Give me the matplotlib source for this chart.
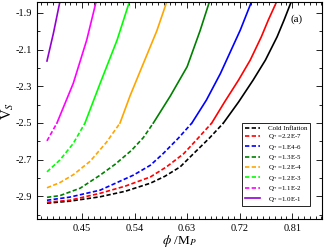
import numpy as np
import matplotlib
matplotlib.use('Agg')
import matplotlib.pyplot as plt
from matplotlib.ticker import MultipleLocator
from matplotlib.lines import Line2D

plt.rcParams['font.family'] = ['Liberation Serif', 'DejaVu Serif']
plt.rcParams['mathtext.fontset'] = 'stix'

# curves: phi/M_P and V_S
labels = ['Cold Inflation', 'Q$_*$=2.2E-7', 'Q$_*$=1.E4-6', 'Q$_*$=1.3E-5',
          'Q$_*$=1.2E-4', 'Q$_*$=1.2E-3', 'Q$_*$=1.1E-2', 'Q$_*$=1.0E-1']
colors = ['black', 'red', 'blue', '#008000', 'orange', '#00ff00', 'magenta', '#9400d3']

phi_cold = [0.390, 0.429, 0.481, 0.524, 0.567, 0.592, 0.618, 0.644, 0.668, 0.692,
            0.718, 0.743, 0.764, 0.784, 0.796, 0.808]
vs_cold = [-2.938, -2.927, -2.903, -2.873, -2.829, -2.791, -2.740, -2.658, -2.583, -2.501,
           -2.386, -2.266, -2.157, -2.030, -1.938, -1.840]

phi_q1 = [0.390, 0.429, 0.481, 0.524, 0.567, 0.595, 0.624, 0.647, 0.672,
          0.694, 0.718, 0.738, 0.757, 0.769, 0.783]
vs_q1 = [-2.933, -2.922, -2.884, -2.845, -2.795, -2.739, -2.668, -2.589, -2.501,
         -2.386, -2.266, -2.157, -2.030, -1.938, -1.840]

phi_q2 = [0.390, 0.429, 0.481, 0.538, 0.567, 0.589, 0.615, 0.638, 0.663, 0.687, 0.721, 0.740]
vs_q2 = [-2.922, -2.905, -2.867, -2.785, -2.731, -2.667, -2.583, -2.501, -2.375, -2.230, -1.993, -1.840]

phi_q3 = [0.390, 0.412, 0.447, 0.481, 0.507, 0.535, 0.555, 0.572, 0.601, 0.630, 0.652, 0.668]
vs_q3 = [-2.906, -2.897, -2.856, -2.785, -2.725, -2.649, -2.580, -2.501, -2.354, -2.193, -1.998, -1.840]

phi_q4 = [0.390, 0.412, 0.435, 0.464, 0.492, 0.515, 0.532, 0.549, 0.578, 0.595]
vs_q4 = [-2.854, -2.826, -2.783, -2.709, -2.605, -2.501, -2.354, -2.222, -1.998, -1.840]

phi_q5 = [0.390, 0.412, 0.435, 0.455, 0.481, 0.510, 0.531]
vs_q5 = [-2.767, -2.703, -2.612, -2.501, -2.284, -2.048, -1.840]

phi_q6 = [0.390, 0.407, 0.435, 0.458, 0.474]
vs_q6 = [-2.598, -2.501, -2.284, -2.048, -1.840]

phi_q7 = [0.390, 0.401, 0.412]
vs_q7 = [-2.162, -2.011, -1.840]

phis = [phi_cold, phi_q1, phi_q2, phi_q3, phi_q4, phi_q5, phi_q6, phi_q7]
vss = [vs_cold, vs_q1, vs_q2, vs_q3, vs_q4, vs_q5, vs_q6, vs_q7]
v_switch = -2.5  # dashed below, solid above

fig = plt.figure(figsize=(3.25, 2.49), dpi=100)
ax = fig.add_axes([0.114, 0.12, 0.877, 0.872])

dash = (2.6, 1.4)
for phi, vs, c in zip(phis, vss, colors):
    phi = np.array(phi)
    vs = np.array(vs)
    low = vs <= v_switch + 0.002
    high = vs >= v_switch - 0.002
    if low.sum() > 1:
        ax.plot(phi[low], vs[low], color=c, lw=1.2, dashes=dash)
    ax.plot(phi[high], vs[high], color=c, lw=1.2)

ax.set_xlim(0.373, 0.861)
ax.set_ylim(-3.025, -1.84)
ax.xaxis.set_minor_locator(MultipleLocator(0.01))
ax.yaxis.set_minor_locator(MultipleLocator(0.1))
ax.set_xticks([0.45, 0.54, 0.63, 0.72, 0.81])
ax.set_xticklabels(['0.45', '0.54', '0.63', '0.72', '0.81'])
ax.set_yticks([-2.9, -2.7, -2.5, -2.3, -2.1, -1.9])
ax.set_yticklabels(['-2.9', '-2.7', '-2.5', '-2.3', '-2.1', '-1.9'])
ax.tick_params(which='both', direction='in', top=True, right=True, labelsize=7.5, width=0.6)
ax.tick_params(which='major', length=4)
ax.tick_params(which='minor', length=2)
for s in ax.spines.values():
    s.set_linewidth(0.8)

ax.set_xlabel(r'$\phi$ /M$_P$', fontsize=9.5, labelpad=0)
ax.set_ylabel(r'V$_S$', fontsize=10.5, labelpad=0)
ax.text(0.91, 0.92, '(a)', transform=ax.transAxes, fontsize=8, ha='center', va='center')

handles = []
for i, (lab, c) in enumerate(zip(labels, colors)):
    if i < len(labels) - 1:
        handles.append(Line2D([], [], color=c, lw=1.2, dashes=dash, label=lab))
    else:
        handles.append(Line2D([], [], color=c, lw=1.2, label=lab))
leg = ax.legend(handles=handles, loc='lower right', bbox_to_anchor=(0.958, 0.06),
                borderaxespad=0, fontsize=5, frameon=True, fancybox=False,
                handlelength=2.2, labelspacing=0.2, borderpad=0.35, handletextpad=1.2)
leg.get_frame().set_edgecolor('black')
leg.get_frame().set_linewidth(0.6)
leg.get_frame().set_alpha(1)

fig.savefig('out.png', dpi=100)
